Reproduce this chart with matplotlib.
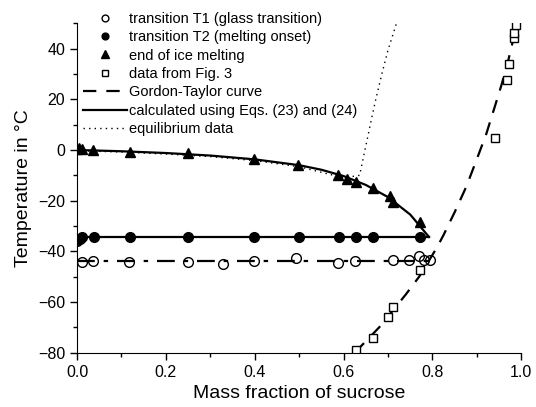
import matplotlib
matplotlib.use("Agg")
import matplotlib.pyplot as plt
from matplotlib.ticker import MultipleLocator

plt.rcParams['font.family'] = ['Liberation Sans', 'DejaVu Sans']

# transition T1 (glass transition), open circles
t1_x = [0.011, 0.037, 0.118, 0.25, 0.328, 0.398, 0.492, 0.588, 0.625, 0.711, 0.747, 0.769, 0.78, 0.795]
t1_y = [-44.2, -44.0, -44.2, -44.2, -45.1, -43.7, -42.8, -44.7, -43.8, -43.4, -43.4, -41.8, -43.4, -43.4]

# transition T2 (melting onset), filled circles
t2_x = [0.0, 0.006, 0.012, 0.038, 0.119, 0.25, 0.398, 0.5, 0.59, 0.627, 0.665, 0.771]
t2_y = [-36.0, -35.0, -34.5, -34.5, -34.5, -34.3, -34.5, -34.5, -34.5, -34.5, -34.3, -34.5]

# end of ice melting, triangles
ice_x = [0.0, 0.004, 0.012, 0.037, 0.119, 0.25, 0.398, 0.498, 0.588, 0.608, 0.627, 0.665, 0.704, 0.711, 0.771]
ice_y = [0.5, 0.7, 0.3, 0.0, -0.7, -1.3, -3.7, -5.9, -9.9, -11.4, -12.5, -15.1, -18.2, -20.4, -28.3]

# data from Fig. 3, squares
fig3_x = [0.627, 0.665, 0.700, 0.711, 0.771, 0.940, 0.968, 0.972, 0.983, 0.983, 0.989]
fig3_y = [-79.0, -74.3, -66.0, -62.1, -47.4, 4.6, 27.6, 34.0, 44.1, 46.0, 49.5]

# Gordon-Taylor curve
gt_x = [0.625, 0.68, 0.74, 0.77, 0.81, 0.825, 0.85, 0.876, 0.90, 0.921, 0.94, 0.955, 0.97, 0.985, 0.992]
gt_y = [-80.0, -70.0, -57.0, -50.0, -38.5, -33.5, -24.5, -14.5, -3.5, 6.3, 17.0, 25.5, 35.0, 46.0, 51.0]

# calculated using Eqs. (23) and (24)
calc_x = [0.0, 0.1, 0.2, 0.3, 0.4, 0.5, 0.55, 0.6, 0.65, 0.7, 0.75, 0.792]
calc_y = [0.0, -0.5, -1.2, -2.2, -3.7, -6.0, -7.8, -10.3, -13.8, -18.6, -25.5, -34.3]

# T1 and T2 fitted levels
t1_line_x = [0.0, 0.80]
t1_line_y = [-44.0, -44.0]
t2_line_x = [0.0, 0.792]
t2_line_y = [-34.4, -34.4]

# equilibrium data
eq_x = [0.0, 0.1, 0.2, 0.3, 0.4, 0.5, 0.6, 0.636, 0.648, 0.66, 0.672, 0.686, 0.70, 0.719]
eq_y = [-0.3, -0.8, -1.6, -2.6, -4.2, -6.6, -11.0, -10.0, 0.0, 10.0, 19.7, 30.0, 39.5, 50.0]

fig = plt.figure(figsize=(5.36, 4.07), dpi=100)
ax = fig.add_axes([0.1437, 0.1334, 0.829, 0.8094])

ax.plot(t1_x, t1_y, 'o', mfc='none', mec='black', ms=7, mew=1.0, label='transition T1 (glass transition)')
ax.plot(t2_x, t2_y, 'o', color='black', ms=7, label='transition T2 (melting onset)')
ax.plot(ice_x, ice_y, '^', color='black', ms=7.5, label='end of ice melting')
ax.plot(fig3_x, fig3_y, 's', mfc='white', mec='black', ms=6, mew=1.0, label='data from Fig. 3')
ax.plot(gt_x, gt_y, color='black', lw=1.6, dashes=(6, 4.5), label='Gordon-Taylor curve', zorder=1)
ax.plot(calc_x, calc_y, color='black', lw=1.6, label='calculated using Eqs. (23) and (24)', zorder=1)
ax.plot(eq_x, eq_y, color='black', lw=1.0, linestyle=(0, (1, 3)), label='equilibrium data', zorder=1)
ax.plot(t2_line_x, t2_line_y, color='black', lw=1.6, zorder=1)
ax.plot(t1_line_x, t1_line_y, color='black', lw=1.6, dashes=(8, 4, 2, 4), zorder=1)

ax.set_xlim(0.0, 1.0)
ax.set_ylim(-80, 50)
ax.xaxis.set_major_locator(MultipleLocator(0.2))
ax.xaxis.set_minor_locator(MultipleLocator(0.1))
ax.yaxis.set_major_locator(MultipleLocator(20))
ax.yaxis.set_minor_locator(MultipleLocator(10))
ax.set_xticks([0.0, 0.2, 0.4, 0.6, 0.8, 1.0])
ax.set_xticklabels(['0.0', '0.2', '0.4', '0.6', '0.8', '1.0'])
ax.spines['top'].set_visible(False)
ax.spines['right'].set_visible(False)
ax.tick_params(which='major', direction='out', length=5, width=1, labelsize=11.5)
ax.tick_params(which='minor', direction='out', length=3, width=1)

ax.set_xlabel('Mass fraction of sucrose', fontsize=14)
ax.set_ylabel('Temperature in °C', fontsize=14)

ax.legend(loc='upper left', bbox_to_anchor=(0.013, 1.035), frameon=False, fontsize=10.5,
          handlelength=3.0, labelspacing=0.3, markerscale=0.7, handletextpad=0.2,
          borderaxespad=0, borderpad=0)

fig.savefig('out.png', dpi=100)
